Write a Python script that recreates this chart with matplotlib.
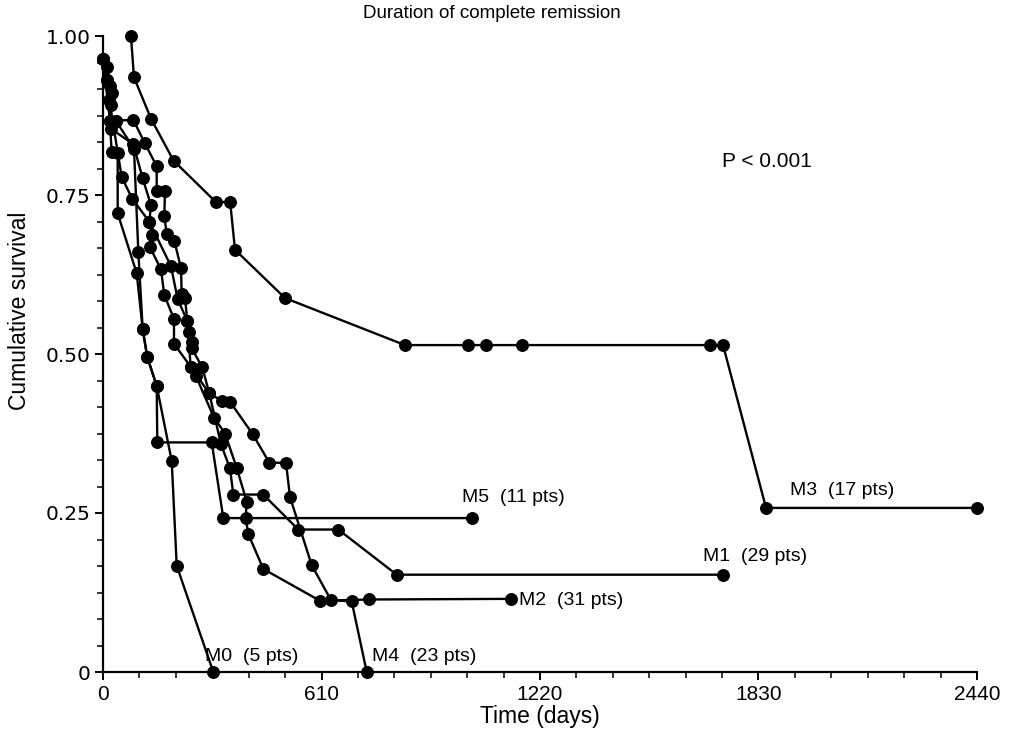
import matplotlib
matplotlib.use("Agg")
import matplotlib.pyplot as plt
from matplotlib.ticker import FixedLocator, MultipleLocator

# Kaplan-Meier style curves (days, cumulative survival)
m0_days = [0, 19.5, 35.5, 86.5, 98.6, 110.8, 123.7, 149.9, 191.8, 205.8, 307.9]
m0_surv = [0.964, 0.867, 0.867, 0.823, 0.661, 0.539, 0.495, 0.450, 0.332, 0.167, 0.0]

m1_days = [0, 19.5, 19.5, 35.5, 84.6, 117.3, 149.9, 149.9, 173.1, 171.1, 177.8,
           199.1, 217.8, 219.7, 228.9, 235.4, 240.1, 247.6, 247.6, 277.2, 296.8,
           329.4, 354.6, 363.8, 447.5, 545.2, 656.9, 820.0, 1731]
m1_surv = [0.964, 0.922, 0.867, 0.867, 0.868, 0.831, 0.795, 0.756, 0.756, 0.717,
           0.689, 0.678, 0.635, 0.594, 0.588, 0.552, 0.535, 0.519, 0.509, 0.479,
           0.438, 0.358, 0.320, 0.279, 0.279, 0.224, 0.224, 0.153, 0.153]

m2_days = [12.0, 24.3, 22.3, 22.3, 84.6, 110.8, 134.0, 129.3, 136.0, 131.2, 161.9,
           171.1, 198.2, 198.2, 244.8, 259.6, 309.9, 340.6, 373.3, 401.2, 398.4,
           405.6, 447.5, 605.8, 742.6, 1139]
m2_surv = [0.952, 0.910, 0.892, 0.854, 0.830, 0.776, 0.734, 0.708, 0.687, 0.668,
           0.633, 0.593, 0.555, 0.516, 0.480, 0.465, 0.400, 0.375, 0.321, 0.268,
           0.242, 0.217, 0.162, 0.112, 0.114, 0.115]

m3_days = [78, 86.5, 134, 197, 315, 355, 368.5, 508, 843, 1019, 1069, 1170,
           1695, 1731, 1851, 2440]
m3_surv = [1.0, 0.935, 0.870, 0.804, 0.739, 0.739, 0.664, 0.588, 0.514, 0.514,
           0.514, 0.514, 0.514, 0.514, 0.258, 0.258]

m4_days = [12.0, 17.6, 52.2, 81.8, 129.3, 189.8, 208.5, 235.4, 244.8, 296.8,
           333.1, 354.6, 417.9, 464.3, 510.9, 522.1, 582.6, 636.5, 694.3, 736.2]
m4_surv = [0.931, 0.899, 0.778, 0.744, 0.708, 0.638, 0.586, 0.552, 0.480, 0.438,
           0.426, 0.425, 0.374, 0.329, 0.329, 0.275, 0.168, 0.113, 0.111, 0.0]

m5_days = [0, 12.0, 24.3, 41.0, 41.0, 94.1, 110.8, 123.7, 149.9, 151.6, 303.5,
           335.9, 1029]
m5_surv = [0.964, 0.931, 0.817, 0.816, 0.721, 0.627, 0.539, 0.495, 0.450, 0.361,
           0.361, 0.242, 0.242]

groups = [(m0_days, m0_surv), (m1_days, m1_surv), (m2_days, m2_surv),
          (m3_days, m3_surv), (m4_days, m4_surv), (m5_days, m5_surv)]

labels = ["M0  (5 pts)", "M1  (29 pts)", "M2  (31 pts)", "M3  (17 pts)",
          "M4  (23 pts)", "M5  (11 pts)"]
label_x = [285, 1675, 1161, 1918, 751, 1002]
label_y = [0.024, 0.182, 0.113, 0.286, 0.024, 0.275]

x_ticks = [0, 610, 1220, 1830, 2440]
y_ticks = [0, 0.25, 0.50, 0.75, 1.00]
y_ticklabels = ["0", "0.25", "0.50", "0.75", "1.00"]

plt.rcParams['font.family'] = "sans-serif"
plt.rcParams['font.sans-serif'] = ["Liberation Sans", "DejaVu Sans"]
plt.rcParams['font.size'] = 14

fig = plt.figure(figsize=(10.14, 7.36), dpi=100)
ax = fig.add_axes([103/1014, 64/736, 874/1014, 636/736])

for days, surv in groups:
    ax.plot(days, surv, color="black", lw=1.7, marker="o", ms=8.3,
            clip_on=False, zorder=3)

for lab, lx, ly in zip(labels, label_x, label_y):
    ax.text(lx, ly, lab, fontsize=14, ha="left", va="center")

ax.text(1728, 0.803, "P < 0.001", fontsize=15, ha="left", va="center")

ax.set_xlim(0, 2440)
ax.set_ylim(0, 1.0)
ax.xaxis.set_major_locator(FixedLocator(x_ticks))
ax.xaxis.set_minor_locator(MultipleLocator(610/6))
ax.yaxis.set_major_locator(FixedLocator(y_ticks))
ax.yaxis.set_minor_locator(MultipleLocator(0.25/6))
ax.set_yticklabels(y_ticklabels, family="DejaVu Sans", fontsize=14.5)
ax.tick_params(which="major", direction="out", length=6, width=1.4, pad=3)
ax.tick_params(axis="x", which="major", labelsize=15)
ax.tick_params(which="minor", direction="out", length=4, width=1.1)

for side in ["top", "right"]:
    ax.spines[side].set_visible(False)
for side in ["left", "bottom"]:
    ax.spines[side].set_linewidth(1.6)

ax.set_xlabel("Time (days)", fontsize=16.5, labelpad=1)
ax.set_ylabel("Cumulative survival", fontsize=16.5)
ax.yaxis.set_label_coords(-0.082, 0.568)

fig.text(492/1014, 1 - 13/736, "Duration of complete remission", fontsize=13.5,
         ha="center", va="center")

fig.savefig("out.png", dpi=100)
